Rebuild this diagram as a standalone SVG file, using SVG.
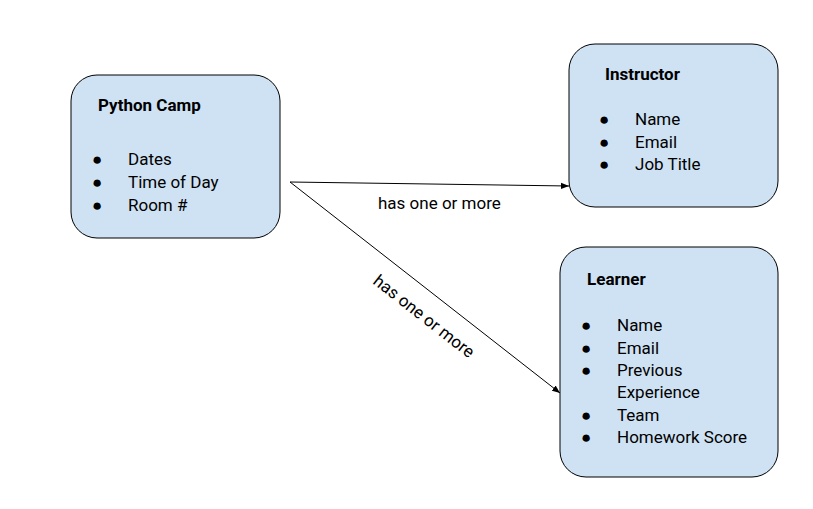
<svg xmlns="http://www.w3.org/2000/svg" width="813" height="509" viewBox="0 0 813 509">
<style>
.box{fill:#cfe2f3;stroke:#000;stroke-width:1}
text{font-family:"Roboto","Liberation Sans",Arial,sans-serif;font-size:17px;fill:#000}
.t{font-weight:bold}
.c{stroke:#000;stroke-width:1;fill:none;marker-end:url(#ah)}
</style>
<defs><marker id="ah" viewBox="0 0 10 10" refX="10" refY="5" markerWidth="8" markerHeight="8" markerUnits="userSpaceOnUse" orient="auto"><path d="M0,1 L10,5 L0,9 z" fill="#000"/></marker></defs>
<rect width="813" height="509" fill="#fff"/>
<g id="python-camp">
<rect class="box" x="71" y="75" width="209" height="163" rx="26"/>
<text class="t" x="98" y="111">Python Camp</text>
<text x="92" y="165">●</text><text x="128" y="165">Dates</text>
<text x="92" y="188">●</text><text x="128" y="188">Time of Day</text>
<text x="92" y="211">●</text><text x="128" y="211">Room #</text>
</g>
<g id="instructor">
<rect class="box" x="569" y="44" width="209" height="163" rx="26"/>
<text class="t" x="605" y="80">Instructor</text>
<text x="599" y="125">●</text><text x="635" y="125">Name</text>
<text x="599" y="148">●</text><text x="635" y="148">Email</text>
<text x="599" y="170">●</text><text x="635" y="170">Job Title</text>
</g>
<g id="learner">
<rect class="box" x="560" y="247" width="218" height="230" rx="26"/>
<text class="t" x="587" y="285">Learner</text>
<text x="581" y="331">●</text><text x="617" y="331">Name</text>
<text x="581" y="354">●</text><text x="617" y="354">Email</text>
<text x="581" y="376">●</text><text x="617" y="376">Previous</text>
<text x="617" y="398">Experience</text>
<text x="581" y="421">●</text><text x="617" y="421">Team</text>
<text x="581" y="443">●</text><text x="617" y="443">Homework Score</text>
</g>
<g id="connectors">
<path class="c" d="M290,182 L569,186"/>
<path class="c" d="M290,182 L560,393"/>
<text x="378" y="209">has one or more</text>
<text transform="translate(372,283) rotate(38)">has one or more</text>
</g>
</svg>
